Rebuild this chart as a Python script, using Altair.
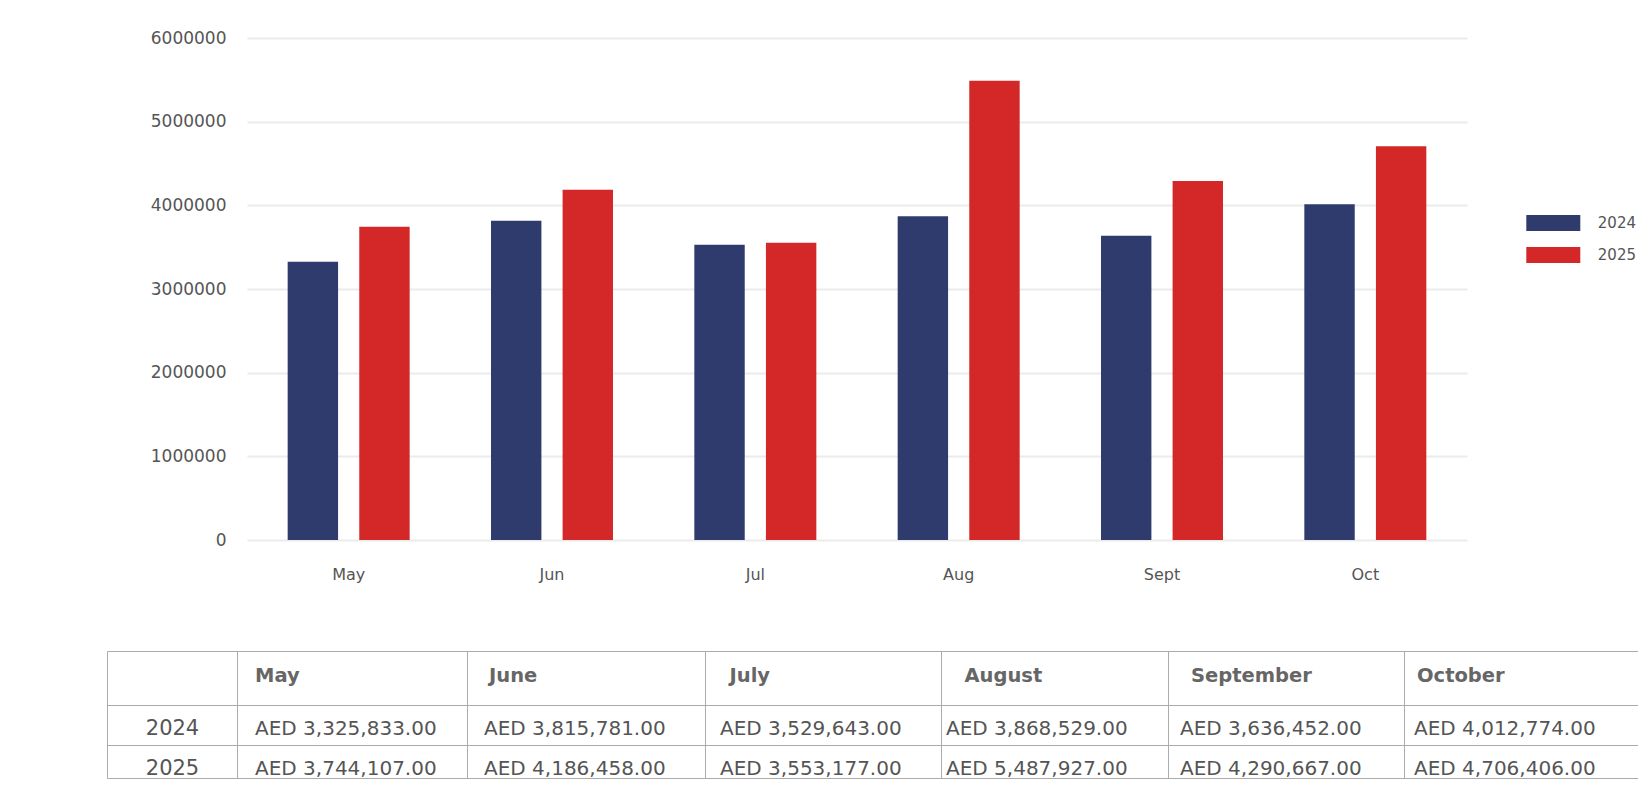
import altair as alt
import pandas as pd

# ---------------- data ----------------
months = ["May", "Jun", "Jul", "Aug", "Sept", "Oct"]
months_full = ["May", "June", "July", "August", "September", "October"]
years = ["2024", "2025"]
values_2024 = [3325833, 3815781, 3529643, 3868529, 3636452, 4012774]
values_2025 = [3744107, 4186458, 3553177, 5487927, 4290667, 4706406]
y_ticks = [0, 1000000, 2000000, 3000000, 4000000, 5000000, 6000000]

# ---------------- styling / layout ----------------
colors = ["#2f3b6d", "#d42828"]
FONT = "DejaVu Sans"
LABEL_COLOR = "#555555"
PAD_L, PAD_T, PAD_R, PAD_B = 239, 30, 171, 239
W, H = 1220, 502
OX, OY = 8 + PAD_L, 8 + PAD_T  # plot origin on the page

# table layout (page coordinates)
col_edges = [107.5, 237.5, 467.5, 705.5, 941.5, 1168.5, 1404.5]
table_right = 1700
row_edges = [651.5, 705.5, 745.5, 778.5]
header_x = [255, 489, 729.5, 964.5, 1191, 1417]
value_x = [255, 484, 720, 946, 1180, 1414]
year_cx = 172.5
header_base = 682
row_base = [735, 775]

# ---------------- tables for the library ----------------
bars_df = pd.DataFrame({
    "Month": months * 2,
    "Year": [years[0]] * len(months) + [years[1]] * len(months),
    "Value": values_2024 + values_2025,
})

hlines = pd.DataFrame({
    "x0": [col_edges[0] - OX] * len(row_edges),
    "x1": [table_right - OX] * len(row_edges),
    "y": [r - OY for r in row_edges],
})
vlines = pd.DataFrame({
    "x": [c - OX for c in col_edges],
    "y0": [row_edges[0] - OY] * len(col_edges),
    "y1": [row_edges[-1] - OY] * len(col_edges),
})
header_df = pd.DataFrame({
    "label": months_full,
    "x": [v - OX for v in header_x],
    "y": [header_base - OY] * len(months_full),
})
val_rows = []
for r, vals in enumerate([values_2024, values_2025]):
    for i, v in enumerate(vals):
        val_rows.append({"label": "AED {:,.2f}".format(v), "x": value_x[i] - OX, "y": row_base[r] - OY})
values_df = pd.DataFrame(val_rows)
year_df = pd.DataFrame({
    "label": years,
    "x": [year_cx - OX] * len(years),
    "y": [b - OY for b in row_base],
})

# ---------------- chart ----------------
bars = alt.Chart(bars_df).mark_bar().encode(
    x=alt.X("Month:N", sort=months,
            scale=alt.Scale(paddingInner=0.4, paddingOuter=0.2),
            axis=alt.Axis(title=None, labelAngle=0, domain=False, ticks=False, grid=False,
                          labelPadding=26, labelFontSize=16, labelColor=LABEL_COLOR, labelFont=FONT)),
    xOffset=alt.XOffset("Year:N", sort=years, scale=alt.Scale(paddingInner=0.296, paddingOuter=0)),
    y=alt.Y("Value:Q", scale=alt.Scale(domain=[0, 6000000], nice=False),
            axis=alt.Axis(title=None, values=y_ticks, format="d", domain=False, ticks=False,
                          grid=True, gridColor="#ebebeb", gridWidth=2,
                          labelPadding=21, labelFontSize=17, labelColor=LABEL_COLOR, labelFont=FONT)),
    color=alt.Color("Year:N", sort=years, scale=alt.Scale(domain=years, range=colors),
                    legend=alt.Legend(title=None, orient="none", legendX=1292.8, legendY=171.5,
                                      symbolType="M-2,-0.6H2V0.6H-2Z", symbolSize=729,
                                      symbolStrokeWidth=0, labelOffset=31, rowPadding=10,
                                      labelFontSize=15, labelColor=LABEL_COLOR, labelFont=FONT,
                                      padding=0)),
)

h_rules = alt.Chart(hlines).mark_rule(color="#ababab", strokeWidth=1).encode(
    x=alt.X("x0:Q", scale=None, axis=None),
    x2="x1:Q",
    y=alt.Y("y:Q", scale=None, axis=None),
)
v_rules = alt.Chart(vlines).mark_rule(color="#ababab", strokeWidth=1).encode(
    x=alt.X("x:Q", scale=None, axis=None),
    y=alt.Y("y0:Q", scale=None, axis=None),
    y2="y1:Q",
)
header_text = alt.Chart(header_df).mark_text(
    align="left", baseline="alphabetic", font=FONT, fontSize=19.5, fontWeight="bold", color="#666666"
).encode(
    x=alt.X("x:Q", scale=None, axis=None),
    y=alt.Y("y:Q", scale=None, axis=None),
    text="label:N",
)
value_text = alt.Chart(values_df).mark_text(
    align="left", baseline="alphabetic", font=FONT, fontSize=20, color=LABEL_COLOR
).encode(
    x=alt.X("x:Q", scale=None, axis=None),
    y=alt.Y("y:Q", scale=None, axis=None),
    text="label:N",
)
year_text = alt.Chart(year_df).mark_text(
    align="center", baseline="alphabetic", font=FONT, fontSize=21, color=LABEL_COLOR
).encode(
    x=alt.X("x:Q", scale=None, axis=None),
    y=alt.Y("y:Q", scale=None, axis=None),
    text="label:N",
)

chart = alt.layer(bars, h_rules, v_rules, header_text, value_text, year_text).properties(
    width=W, height=H,
    autosize=alt.AutoSizeParams(type="none"),
    padding={"left": PAD_L, "top": PAD_T, "right": PAD_R, "bottom": PAD_B},
    background="white",
).configure(font=FONT).configure_view(strokeWidth=0)

chart.save("out.html", embed_options={"renderer": "svg", "actions": False})
